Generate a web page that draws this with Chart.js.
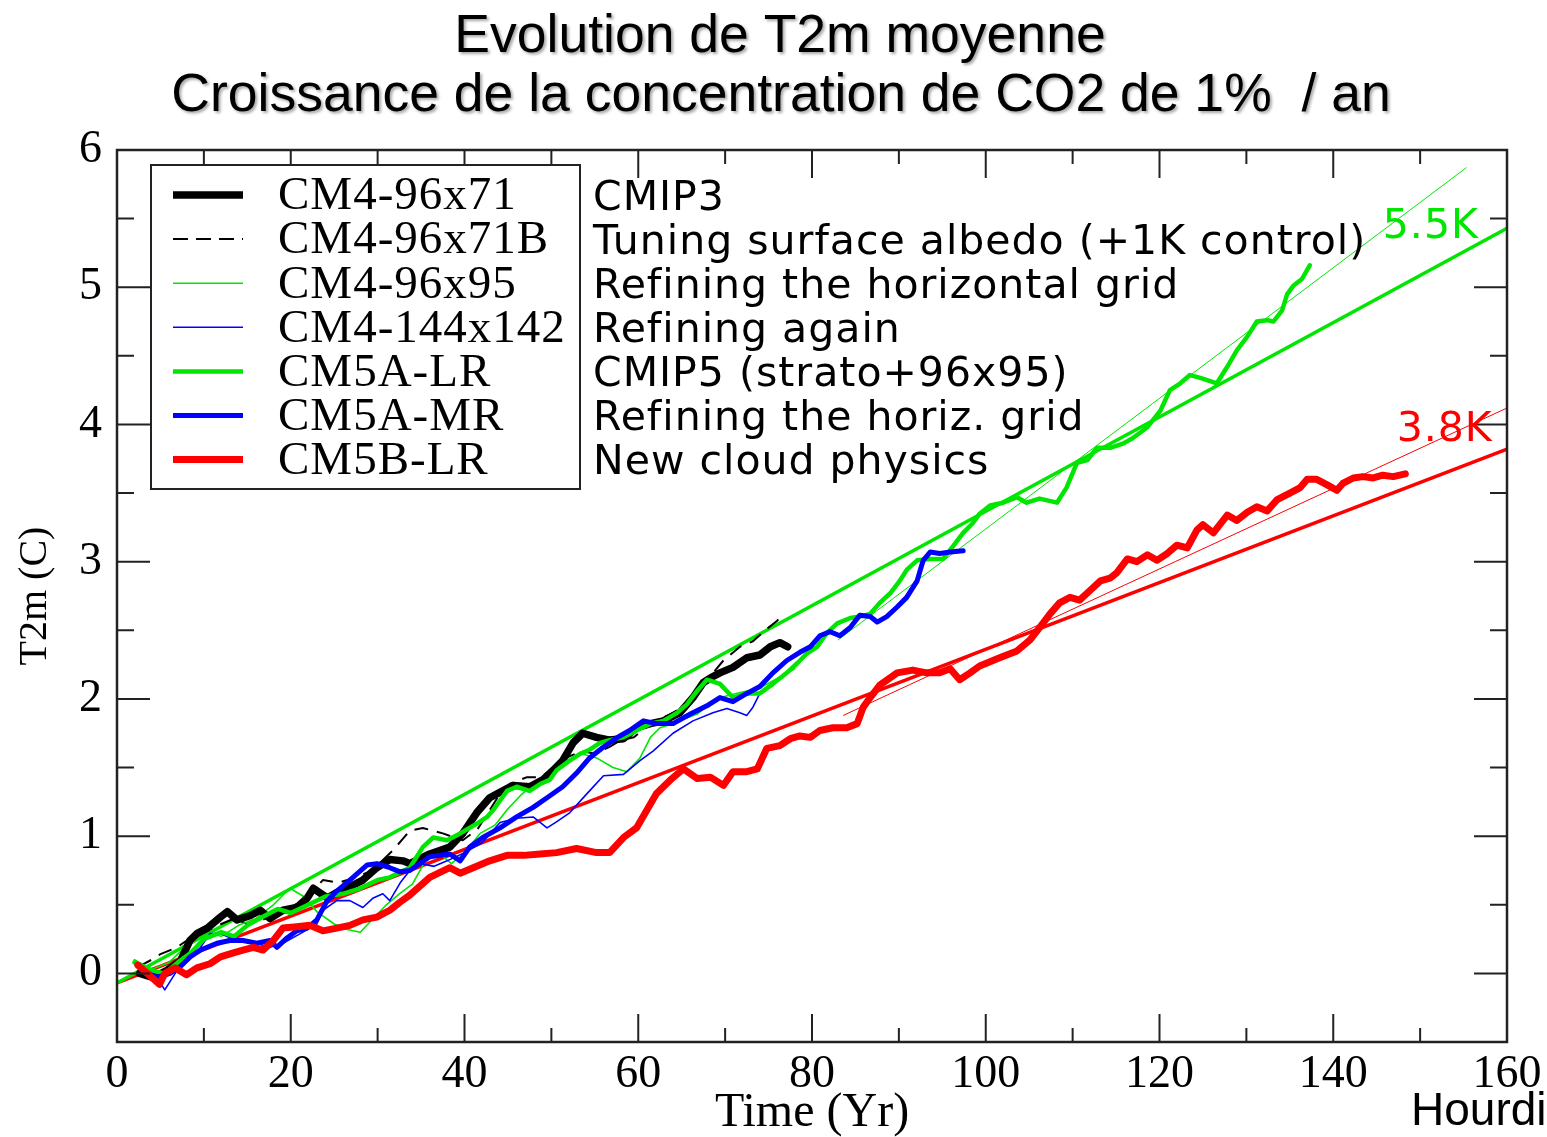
<!DOCTYPE html>
<html>
<head>
<meta charset="utf-8">
<title>Evolution de T2m moyenne</title>
<script src="https://cdn.jsdelivr.net/npm/chart.js@4.4.1/dist/chart.umd.min.js"></script>
<style>
  html, body { margin: 0; padding: 0; background: #fff; }
  canvas { display: block; }
</style>
</head>
<body>
<canvas id="t2mChart" width="1547" height="1137"></canvas>
<script>
// values: [year, T2m anomaly (C)]
const cm4_96x71 = [[2.6,0.00],[4.1,-0.03],[5.7,0.02],[7.3,0.09],[8.4,0.24],[9.2,0.29],[10.4,0.33],[11.9,0.41],[12.7,0.45],[13.8,0.39],[15.3,0.42],[16.5,0.46],[17.6,0.40],[19.1,0.46],[20.7,0.48],[21.9,0.55],[22.6,0.62],[24.2,0.55],[25.3,0.59],[26.8,0.63],[28.3,0.68],[29.9,0.77],[31.4,0.83],[32.9,0.82],[33.7,0.80],[36,0.87],[38.3,0.92],[39.8,1.02],[41.4,1.17],[42.9,1.28],[44.4,1.33],[45.6,1.37],[47.5,1.36],[49,1.41],[50.2,1.48],[51.3,1.55],[52.5,1.68],[53.6,1.75],[55.2,1.72],[56.7,1.70],[58.3,1.71],[59.8,1.79],[61.4,1.82],[62.9,1.84],[64.8,1.90],[66.3,2.01],[67.5,2.12],[68.5,2.16],[69.4,2.19],[70.9,2.23],[72.5,2.30],[74,2.32],[75.2,2.38],[76.3,2.41],[77.2,2.38]];
const cm4_96x71B = [[2.5,0.05],[4,0.10],[5,0.14],[6.9,0.19],[8.5,0.26],[10,0.30],[12,0.36],[13.5,0.40],[15,0.36],[16.5,0.38],[18,0.43],[20,0.48],[22,0.56],[23.7,0.68],[25.5,0.66],[27.5,0.70],[29,0.74],[30.5,0.82],[31.8,0.90],[32.9,0.98],[33.7,1.04],[35.2,1.06],[37.5,1.02],[39.8,0.97],[41.5,1.05],[43,1.20],[44,1.30],[45.2,1.38],[47.2,1.43],[48.7,1.43],[50.5,1.50],[52,1.58],[53.5,1.62],[55,1.60],[56.7,1.65],[58,1.70],[59.5,1.72],[61,1.80],[62.5,1.85],[64,1.90],[65.5,1.95],[67,2.05],[68.5,2.18],[69.8,2.28],[71.7,2.38],[73.2,2.42],[74.8,2.51],[76,2.57],[76.7,2.63]];
const cm4_96x95 = [[2,0.10],[4,0.03],[6,0.08],[8,0.20],[10,0.30],[12,0.27],[14,0.35],[16,0.40],[18,0.50],[19.9,0.62],[21.5,0.56],[23,0.45],[25,0.36],[26.5,0.32],[28,0.30],[29.5,0.40],[31,0.50],[32.5,0.58],[34,0.65],[35.5,0.82],[37,0.88],[38.5,0.80],[40,0.88],[41.8,1.02],[43.5,1.08],[45,1.20],[46.5,1.30],[48,1.38],[50,1.45],[52,1.55],[53.5,1.60],[55.2,1.57],[57.1,1.50],[58.7,1.47],[60.2,1.57],[61.4,1.72],[62.5,1.79],[64,1.82],[65.5,1.86],[66.8,1.89],[68.3,1.97],[70,2.02],[72,2.05],[74,2.08],[76,2.15],[78,2.22]];
const cm4_144x142 = [[3,0.02],[4.5,-0.02],[5.5,-0.12],[6.9,0.02],[8,0.08],[9.2,0.15],[10.7,0.29],[11.9,0.29],[13,0.26],[15.3,0.23],[17.6,0.19],[19.1,0.22],[21.1,0.29],[23,0.36],[23.7,0.46],[25.3,0.53],[26.8,0.53],[28.3,0.48],[29.5,0.55],[30.6,0.58],[31.4,0.53],[32.6,0.66],[33.7,0.75],[35,0.80],[36.5,0.78],[38,0.82],[40,0.88],[42,0.95],[44.1,1.10],[46,1.13],[47.9,1.14],[49.5,1.06],[50.5,1.10],[52.1,1.17],[54.1,1.31],[56,1.44],[58.3,1.45],[60.2,1.55],[61.7,1.62],[64,1.75],[66.3,1.84],[68.6,1.90],[70.2,1.93],[71.7,1.90],[72.5,1.88],[73.2,1.94],[74,2.04],[75.5,2.10]];
const cm5a_lr = [[2,0.08],[4,0.02],[5.5,0.00],[7,0.08],[8.5,0.15],[10,0.25],[12,0.30],[13.5,0.27],[15,0.35],[17,0.42],[18.5,0.47],[20,0.44],[22,0.50],[24,0.56],[26,0.58],[28,0.62],[30,0.68],[31.4,0.70],[33.7,0.77],[35.2,0.92],[36.4,0.99],[38,0.97],[39.5,1.02],[41.4,1.09],[42.6,1.14],[43.3,1.19],[44.1,1.26],[44.9,1.33],[46,1.36],[47.5,1.33],[48.7,1.38],[49.8,1.41],[50.6,1.48],[52.1,1.55],[53.3,1.60],[54.4,1.63],[55.6,1.68],[56.7,1.70],[58.3,1.72],[59.8,1.77],[61.4,1.82],[62.9,1.84],[64.5,1.90],[65.6,1.96],[66.8,2.06],[67.9,2.14],[69.4,2.11],[70.9,2.01],[72.5,2.04],[74,2.04],[75.5,2.11],[77.1,2.19],[78.3,2.26],[79.4,2.33],[80.6,2.38],[81.7,2.48],[82.9,2.55],[84.4,2.59],[85.5,2.60],[86.7,2.62],[87.8,2.70],[89,2.77],[90.1,2.86],[90.9,2.94],[92.1,3.01],[93.6,3.02],[95.1,3.02],[96.2,3.11],[97.4,3.21],[98.5,3.28],[99.3,3.35],[100.5,3.41],[102,3.43],[103.6,3.47],[104.7,3.43],[106.2,3.46],[108.2,3.43],[109.3,3.54],[110.5,3.72],[111.7,3.74],[112.8,3.83],[114.3,3.83],[115.8,3.86],[116.9,3.90],[118.6,3.98],[120.1,4.10],[121.2,4.25],[122.4,4.30],[123.5,4.36],[124.7,4.34],[126.6,4.30],[127.8,4.42],[128.9,4.54],[130.1,4.64],[131.2,4.75],[132.4,4.76],[133.1,4.75],[134.1,4.83],[134.7,4.95],[135.4,5.01],[136.4,5.06],[137.3,5.16]];
const cm5a_mr = [[3,0.02],[4.6,-0.03],[6.1,0.00],[7.3,0.05],[8.4,0.12],[9.6,0.17],[11.5,0.22],[13,0.24],[14.5,0.24],[16.1,0.22],[17.6,0.24],[18.4,0.19],[19.6,0.26],[20.7,0.31],[21.9,0.33],[23,0.39],[24.2,0.53],[25.3,0.60],[26.8,0.68],[28.8,0.79],[29.9,0.80],[31.4,0.77],[32.6,0.74],[33.7,0.75],[36,0.85],[38.3,0.87],[39.5,0.82],[40.6,0.92],[42.1,0.99],[44.1,1.06],[46,1.14],[47.9,1.21],[49.5,1.28],[51.3,1.36],[52.9,1.46],[54.4,1.57],[56,1.65],[57.6,1.72],[59,1.77],[60.6,1.84],[62.1,1.82],[64,1.82],[66,1.89],[67.9,1.95],[69.4,2.01],[70.9,1.98],[72.5,2.04],[74,2.09],[75.5,2.19],[77.1,2.28],[78.6,2.34],[79.8,2.38],[80.9,2.46],[82.1,2.49],[83.2,2.46],[84.4,2.52],[85.5,2.61],[86.7,2.60],[87.5,2.56],[88.6,2.60],[89.8,2.67],[90.9,2.74],[92.1,2.86],[92.8,3.01],[93.6,3.07],[94.7,3.06],[95.9,3.07],[97.4,3.08]];
const cm5b_lr = [[2.4,0.06],[4.9,-0.08],[5.5,0.00],[6.7,0.04],[8,-0.01],[9.2,0.04],[10.7,0.07],[11.9,0.12],[13.4,0.15],[14.5,0.17],[15.7,0.19],[16.8,0.17],[18,0.24],[19.1,0.33],[20.7,0.34],[22.2,0.35],[23.7,0.31],[25.3,0.33],[26.8,0.35],[28.3,0.39],[29.9,0.41],[31.4,0.46],[32.6,0.52],[33.7,0.57],[36,0.70],[38.3,0.77],[39.5,0.73],[41,0.77],[42.9,0.82],[44.9,0.86],[46.8,0.86],[48.7,0.87],[50.6,0.88],[52.9,0.91],[55.2,0.88],[56.7,0.88],[58.3,0.99],[59.8,1.06],[61,1.19],[62.1,1.31],[63.7,1.41],[65.2,1.49],[66.8,1.42],[68.3,1.43],[69.8,1.37],[70.9,1.47],[72.5,1.47],[73.7,1.49],[74.8,1.64],[76.3,1.66],[77.5,1.71],[78.6,1.73],[79.8,1.72],[80.9,1.77],[82.4,1.79],[84,1.79],[85.2,1.82],[85.9,1.94],[86.7,2.01],[87.8,2.10],[89.8,2.19],[91.6,2.21],[93.2,2.19],[94.7,2.19],[95.9,2.22],[97,2.14],[98.2,2.19],[99.3,2.24],[101.6,2.30],[103.6,2.35],[105.1,2.43],[106.2,2.52],[107.4,2.62],[108.5,2.70],[109.7,2.74],[110.8,2.72],[112,2.79],[113.2,2.86],[114.3,2.88],[115.1,2.92],[116.3,3.02],[117.4,3.00],[118.6,3.05],[119.7,3.01],[120.9,3.06],[122,3.12],[123.2,3.10],[124.3,3.23],[125,3.27],[126.2,3.21],[127.8,3.34],[128.9,3.30],[130.1,3.36],[131.2,3.40],[132.4,3.37],[133.5,3.45],[135,3.50],[136.2,3.54],[137,3.60],[138.1,3.60],[139.3,3.56],[140.4,3.52],[141.1,3.57],[142.3,3.61],[143.4,3.62],[144.6,3.61],[145.7,3.63],[146.9,3.62],[148.3,3.64]];

// linear fits as drawn on the figure (end points)
const fitCM5A = [[0,-0.07],[160,5.43]];
const fitCM5Athin = [[83,2.43],[155.3,5.87]];
const fitCM5B = [[0,-0.07],[160,3.82]];
const fitCM5Bthin = [[83.6,1.88],[160,4.12]];

const seriesNames = ['CM4-96x71', 'CM4-96x71B', 'CM4-96x95', 'CM4-144x142', 'CM5A-LR', 'CM5A-MR', 'CM5B-LR'];
const seriesNotes = ['CMIP3', 'Tuning surface albedo (+1K control)', 'Refining the horizontal grid', 'Refining again', 'CMIP5 (strato+96x95)', 'Refining the horiz. grid', 'New cloud physics'];
const fitLabels = [{text: '5.5K', x: 145.7, y: 5.36, color: '#00e600'}, {text: '3.8K', x: 147.3, y: 3.88, color: '#ff0000'}];

const xTickLabels = [0, 20, 40, 60, 80, 100, 120, 140, 160];
const yTickLabels = [0, 1, 2, 3, 4, 5, 6];
const xTickMarks = [0, 10, 20, 30, 40, 50, 60, 70, 80, 90, 100, 110, 120, 130, 140, 150, 160];
const yTickMarks = [-0.5, 0, 0.5, 1, 1.5, 2, 2.5, 3, 3.5, 4, 4.5, 5, 5.5, 6];
const titleLines = ['Evolution de T2m moyenne', 'Croissance de la concentration de CO2 de 1%  / an'];

const green = '#00e600';
const blue = '#0000ff';
const red = '#ff0000';
const toXY = arr => arr.map(([x, y]) => ({x: x, y: y}));

function line(label, data, color, width, extra) {
    return Object.assign({
        label: label,
        data: toXY(data),
        borderColor: color,
        backgroundColor: color,
        borderWidth: width,
        pointRadius: 0,
        tension: 0,
        fill: false,
        borderJoinStyle: 'round',
        borderCapStyle: 'round'
    }, extra || {});
}

const datasets = [
    line('CM5B-LR', cm5b_lr, red, 7, {order: 1}),
    line('CM5A-MR', cm5a_mr, blue, 5, {order: 2}),
    line('CM5A-LR', cm5a_lr, green, 4.5, {order: 3}),
    line('CM4-96x71', cm4_96x71, '#000', 7.5, {order: 4}),
    line('CM4-144x142', cm4_144x142, blue, 1.6, {order: 5}),
    line('CM4-96x95', cm4_96x95, green, 1.6, {order: 6}),
    line('CM4-96x71B', cm4_96x71B, '#000', 2, {order: 7, borderDash: [14, 9], borderCapStyle: 'butt'}),
    line('fit CM5A-LR', fitCM5A, green, 3.5, {order: 8}),
    line('fit CM5A-LR b', fitCM5Athin, green, 1, {order: 9}),
    line('fit CM5B-LR', fitCM5B, red, 3.5, {order: 10}),
    line('fit CM5B-LR b', fitCM5Bthin, red, 1, {order: 11})
];

const insideTicks = {
    id: 'insideTicks',
    afterDatasetsDraw(chart) {
        const {ctx, chartArea: a, scales: {x, y}} = chart;
        ctx.save();
        ctx.strokeStyle = '#222';
        ctx.lineWidth = 2;
        ctx.beginPath();
        xTickMarks.forEach(v => {
            const px = x.getPixelForValue(v);
            const len = v % 20 === 0 ? 28 : 14;
            ctx.moveTo(px, a.bottom); ctx.lineTo(px, a.bottom - len);
            ctx.moveTo(px, a.top); ctx.lineTo(px, a.top + len);
        });
        yTickMarks.forEach(v => {
            const py = y.getPixelForValue(v);
            const len = Number.isInteger(v) ? 33 : 17;
            ctx.moveTo(a.left, py); ctx.lineTo(a.left + len, py);
            ctx.moveTo(a.right, py); ctx.lineTo(a.right - len, py);
        });
        ctx.stroke();
        ctx.lineWidth = 2.5;
        ctx.strokeRect(a.left, a.top, a.right - a.left, a.bottom - a.top);
        ctx.restore();
    }
};

// legend box + notes + fit labels + titles
const decorations = {
    id: 'decorations',
    afterDraw(chart) {
        const {ctx, scales: {x, y}} = chart;
        ctx.save();
        ctx.fillStyle = '#fff';
        ctx.fillRect(151, 165, 429, 324);
        ctx.strokeStyle = '#222';
        ctx.lineWidth = 2;
        ctx.strokeRect(151, 165, 429, 324);

        const byLabel = {};
        chart.data.datasets.forEach(d => { byLabel[d.label] = d; });
        seriesNames.forEach((name, i) => {
            const rowY = 195 + i * 44.1;
            const d = byLabel[name];
            ctx.strokeStyle = d.borderColor;
            ctx.lineWidth = d.borderWidth;
            ctx.setLineDash(d.borderDash ? [15, 8] : []);
            ctx.lineCap = 'butt';
            ctx.beginPath();
            ctx.moveTo(173, rowY); ctx.lineTo(243, rowY);
            ctx.stroke();
            ctx.setLineDash([]);
            ctx.fillStyle = '#000';
            ctx.textBaseline = 'middle';
            ctx.textAlign = 'left';
            ctx.letterSpacing = '1px';
            ctx.font = '47px "Liberation Serif", "Times New Roman", serif';
            ctx.fillText(name, 278, rowY + 2);
            ctx.font = '41px "DejaVu Sans", sans-serif';
            ctx.fillText(seriesNotes[i], 593, rowY + 4);
        });

        ctx.font = '41px "DejaVu Sans", sans-serif';
        ctx.textBaseline = 'alphabetic';
        fitLabels.forEach(l => {
            ctx.fillStyle = l.color;
            ctx.fillText(l.text, x.getPixelForValue(l.x), y.getPixelForValue(l.y));
        });
        ctx.letterSpacing = '0px';

        ctx.fillStyle = '#000';
        ctx.font = '46px "Liberation Sans", Arial, sans-serif';
        ctx.fillText('Hourdi', 1411, 1125);

        ctx.font = '53.5px "Liberation Sans", Arial, sans-serif';
        ctx.textAlign = 'center';
        ctx.shadowColor = 'rgba(0,0,0,0.35)';
        ctx.shadowOffsetX = 2;
        ctx.shadowOffsetY = 2;
        ctx.shadowBlur = 3;
        ctx.fillText(titleLines[0], 780, 52);
        ctx.fillText(titleLines[1], 781, 111);
        ctx.restore();
    }
};

const serif = '"Liberation Serif", "Times New Roman", serif';

new Chart(document.getElementById('t2mChart'), {
    type: 'line',
    data: {datasets: datasets},
    options: {
        responsive: false,
        animation: false,
        events: [],
        layout: {padding: {left: 0, top: 150, right: 40, bottom: 0}},
        plugins: {legend: {display: false}, tooltip: {enabled: false}, title: {display: false}},
        scales: {
            x: {
                type: 'linear',
                min: 0,
                max: 160,
                afterBuildTicks: s => { s.ticks = xTickLabels.map(v => ({value: v})); },
                afterFit: s => { s.height = 95; s.paddingLeft = 0; s.paddingRight = 0; },
                grid: {display: false, drawTicks: false},
                border: {display: false},
                ticks: {color: '#000', padding: 10, maxRotation: 0, font: {family: serif, size: 46, lineHeight: 1}},
                title: {display: true, text: 'Time (Yr)', color: '#000', padding: {top: 0, bottom: 0}, font: {family: serif, size: 48, lineHeight: 1}}
            },
            y: {
                type: 'linear',
                min: -0.5,
                max: 6,
                afterBuildTicks: s => { s.ticks = yTickLabels.map(v => ({value: v})); },
                afterFit: s => { s.width = 117; s.paddingTop = 0; s.paddingBottom = 0; },
                grid: {display: false, drawTicks: false},
                border: {display: false},
                ticks: {color: '#000', padding: 15, font: {family: serif, size: 46, lineHeight: 1}},
                title: {display: true, text: 'T2m (C)', color: '#000', padding: {top: 15, bottom: 0}, font: {family: serif, size: 40, lineHeight: 1}}
            }
        }
    },
    plugins: [insideTicks, decorations]
});
</script>
</body>
</html>
